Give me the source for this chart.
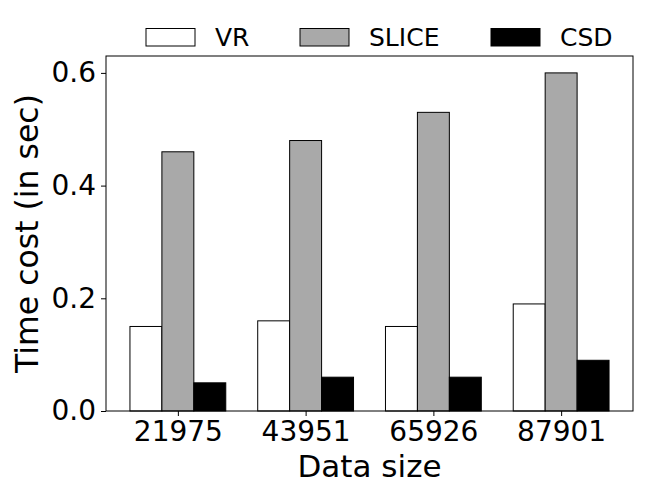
<!DOCTYPE html>
<html>
<head>
<meta charset="utf-8">
<script src="https://cdn.jsdelivr.net/npm/d3@7"></script>
<style>
  body { margin: 0; background: #fff; }
  text { font-family: 'DejaVu Sans', sans-serif; }
</style>
</head>
<body>
<div id="chart"></div>
<script>
const categories = ['21975', '43951', '65926', '87901']
const seriesNames = ['VR', 'SLICE', 'CSD']
const vrValues = [0.15, 0.16, 0.15, 0.19]
const sliceValues = [0.46, 0.48, 0.53, 0.6]
const csdValues = [0.05, 0.06, 0.06, 0.09]
const yTicks = [0.0, 0.2, 0.4, 0.6]

const render = () => {
  const width = 650
  const height = 500
  const margin = { top: 56, right: 17, bottom: 89, left: 106 }

  const series = [
    { name: 'VR', values: vrValues, fill: '#ffffff' },
    { name: 'SLICE', values: sliceValues, fill: '#a9a9a9' },
    { name: 'CSD', values: csdValues, fill: '#000000' },
  ]

  const svg = d3
    .select('#chart')
    .append('svg')
    .attr('width', width)
    .attr('height', height)

  // scales (matplotlib-like: group index with 0.25 bar width)
  const barW = 0.25
  const xScale = d3
    .scaleLinear()
    .domain([-0.5625, categories.length - 1 + 0.5625])
    .range([margin.left, width - margin.right])

  const yScale = d3
    .scaleLinear()
    .domain([0, 0.63])
    .range([height - margin.bottom, margin.top])

  // bars
  series.forEach((s, si) => {
    svg
      .append('g')
      .selectAll('rect')
      .data(s.values)
      .enter()
      .append('rect')
      .attr('x', (d, i) => xScale(i + (si - 1) * barW - barW / 2))
      .attr('y', (d) => yScale(d))
      .attr('width', xScale(barW) - xScale(0))
      .attr('height', (d) => yScale(0) - yScale(d))
      .attr('fill', s.fill)
      .attr('stroke', '#000')
      .attr('stroke-width', 1)
  })

  // axes
  const xAxis = d3
    .axisBottom(xScale)
    .tickValues(d3.range(categories.length))
    .tickFormat((i) => categories[i])
    .tickSize(5)
    .tickPadding(5)

  svg
    .append('g')
    .attr('transform', `translate(0, ${height - margin.bottom})`)
    .call(xAxis)
    .call((g) => g.select('.domain').remove())
    .selectAll('text')
    .attr('font-size', 28)
    .attr('fill', '#000')

  const yAxis = d3
    .axisLeft(yScale)
    .tickValues(yTicks)
    .tickFormat(d3.format('.1f'))
    .tickSize(5)
    .tickPadding(5)

  svg
    .append('g')
    .attr('transform', `translate(${margin.left}, 0)`)
    .call(yAxis)
    .call((g) => g.select('.domain').remove())
    .selectAll('text')
    .attr('font-size', 28)
    .attr('fill', '#000')

  // frame
  svg
    .append('rect')
    .attr('x', margin.left)
    .attr('y', margin.top)
    .attr('width', width - margin.left - margin.right)
    .attr('height', height - margin.top - margin.bottom)
    .attr('fill', 'none')
    .attr('stroke', '#000')
    .attr('stroke-width', 1)

  // axis labels
  svg
    .append('text')
    .attr('x', xScale(1.5))
    .attr('y', 477)
    .attr('text-anchor', 'middle')
    .attr('font-size', 31)
    .text('Data size')

  svg
    .append('text')
    .attr('transform', `translate(38, ${(margin.top + height - margin.bottom) / 2}) rotate(-90)`)
    .attr('text-anchor', 'middle')
    .attr('font-size', 31.5)
    .text('Time cost (in sec)')

  // legend
  const legendX = [146, 300, 491]
  const legend = svg.append('g')
  series.forEach((s, si) => {
    legend
      .append('rect')
      .attr('x', legendX[si])
      .attr('y', 28.5)
      .attr('width', 49)
      .attr('height', 17.5)
      .attr('fill', s.fill)
      .attr('stroke', '#000')
      .attr('stroke-width', 1)
    legend
      .append('text')
      .attr('x', legendX[si] + 69)
      .attr('y', 46)
      .attr('font-size', 25)
      .text(seriesNames[si])
  })
}

render()
</script>
</body>
</html>
